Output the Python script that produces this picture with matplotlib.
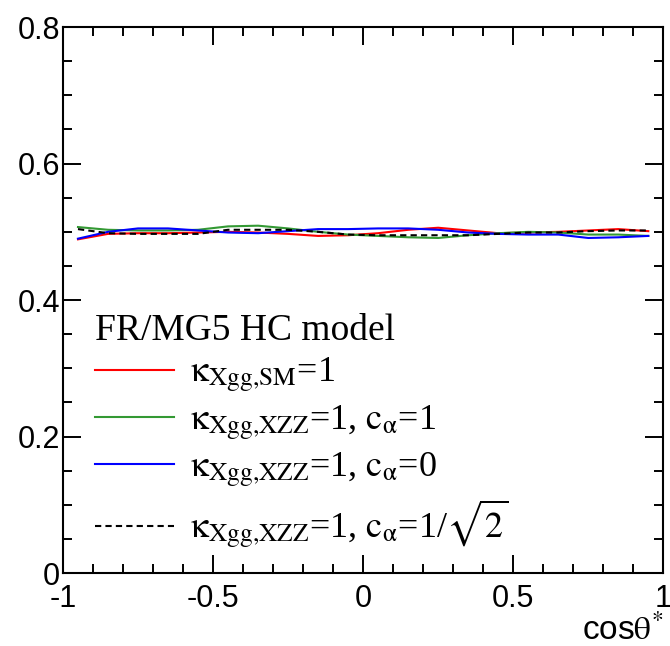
import matplotlib
matplotlib.use("Agg")
import matplotlib.pyplot as plt
from matplotlib.ticker import MultipleLocator, FuncFormatter

plt.rcParams["axes.unicode_minus"] = False
plt.rcParams["mathtext.fontset"] = "stix"

# bin centres of cos(theta*)
cos_theta = [-0.95, -0.85, -0.75, -0.65, -0.55, -0.45, -0.35, -0.25, -0.15, -0.05,
             0.05, 0.15, 0.25, 0.35, 0.45, 0.55, 0.65, 0.75, 0.85, 0.95]

# normalised distributions for each coupling setup
sm = [0.489, 0.497, 0.498, 0.498, 0.499, 0.500, 0.499, 0.497, 0.494, 0.495,
      0.498, 0.503, 0.506, 0.502, 0.498, 0.499, 0.500, 0.502, 0.504, 0.501]
xzz_c1 = [0.507, 0.503, 0.502, 0.502, 0.503, 0.508, 0.509, 0.505, 0.500, 0.496,
          0.494, 0.492, 0.491, 0.495, 0.498, 0.500, 0.499, 0.496, 0.496, 0.494]
xzz_c0 = [0.490, 0.500, 0.505, 0.505, 0.502, 0.499, 0.498, 0.501, 0.504, 0.504,
          0.505, 0.505, 0.503, 0.499, 0.497, 0.496, 0.496, 0.491, 0.492, 0.494]
xzz_csq = [0.504, 0.498, 0.497, 0.497, 0.497, 0.503, 0.503, 0.503, 0.500, 0.496,
           0.495, 0.495, 0.495, 0.495, 0.497, 0.499, 0.499, 0.501, 0.502, 0.502]

KAPPA = r"$\mathrm{\kappa}_{\mathrm{Xgg{,}%s}}$=1"
C_ALPHA = r", $\mathrm{c}_{\mathrm{\alpha}}$=%s"
SERIES = [
    (sm,      KAPPA % "SM",                                   "#ff0000", "-"),
    (xzz_c1,  KAPPA % "XZZ" + C_ALPHA % "1",                  "#339933", "-"),
    (xzz_c0,  KAPPA % "XZZ" + C_ALPHA % "0",                  "#0000ff", "-"),
    (xzz_csq, KAPPA % "XZZ" + C_ALPHA % r"1/$\sqrt{2}$",      "black", (0, (3, 2))),
]

fig = plt.figure(figsize=(6.7, 6.46), dpi=100)
ax = fig.add_axes([0.094, 0.113, 0.896, 0.845])

for ys, label, color, ls in SERIES:
    ax.plot(cos_theta, ys, color=color, linestyle=ls, linewidth=1.5, label=label)

ax.set_xlim(-1, 1)
ax.set_ylim(0, 0.8)
ax.xaxis.set_major_locator(MultipleLocator(0.5))
ax.xaxis.set_minor_locator(MultipleLocator(0.1))
ax.yaxis.set_major_locator(MultipleLocator(0.2))
ax.yaxis.set_minor_locator(MultipleLocator(0.05))
fmt = FuncFormatter(lambda v, p: f"{v:g}")
ax.xaxis.set_major_formatter(fmt)
ax.yaxis.set_major_formatter(fmt)

for s in ax.spines.values():
    s.set_linewidth(1.5)
ax.tick_params(which="both", direction="in", top=True, right=True, width=1.4,
               labelsize=22)
ax.tick_params(which="major", length=13)
ax.tick_params(which="minor", length=6.5)
ax.tick_params(axis="x", which="major", pad=8)
ax.tick_params(axis="y", which="major", pad=2)
for lab in ax.get_xticklabels() + ax.get_yticklabels():
    lab.set_family("Liberation Sans")

ax.set_xlabel(r"cos$\mathrm{\theta}^{*}$", family="Liberation Sans", fontsize=24,
              loc="right", labelpad=0)

leg = ax.legend(loc="upper left", bbox_to_anchor=(0.053, 0.475), frameon=False,
                title="FR/MG5 HC model", alignment="left",
                prop={"family": "Liberation Serif", "size": 26},
                title_fontproperties={"family": "Liberation Serif", "size": 27},
                handlelength=2.2, handletextpad=0.45, labelspacing=0.22,
                borderpad=0, borderaxespad=0)

fig.savefig("out.png", dpi=100)
